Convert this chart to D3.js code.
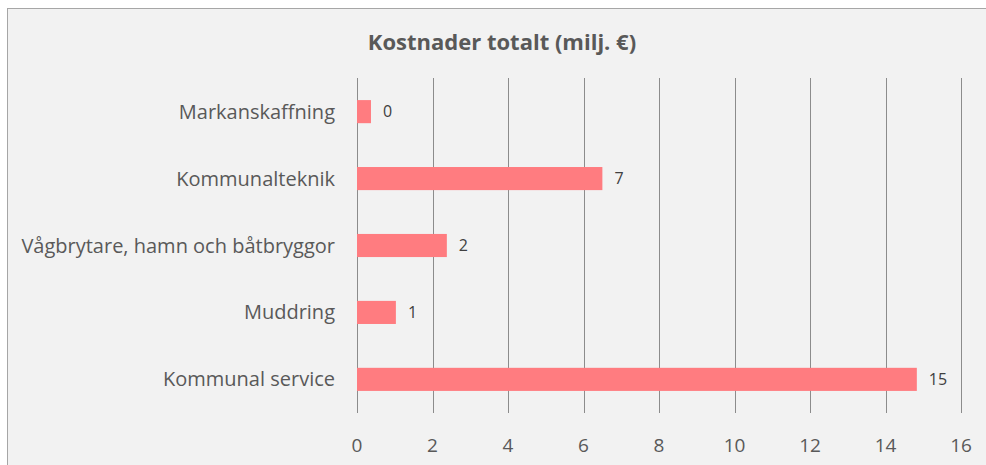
<!DOCTYPE html>
<html>
<head>
<meta charset="utf-8">
<script src="https://cdn.jsdelivr.net/npm/d3@7"></script>
<style>
  body { margin: 0; background: #fff; }
  svg { display: block; font-family: "Open Sans", Lato, sans-serif; }
</style>
</head>
<body>
<div id="chart"></div>
<script>
// Data
const categories = ['Markanskaffning', 'Kommunalteknik', 'Vågbrytare, hamn och båtbryggor', 'Muddring', 'Kommunal service'];
const values = [0.37, 6.5, 2.38, 1.03, 14.83];
const xTicks = [0, 2, 4, 6, 8, 10, 12, 14, 16];

const width = 986, height = 465;
const svg = d3.select('#chart').append('svg')
  .attr('width', width)
  .attr('height', height);

// chart box
svg.append('rect')
  .attr('x', 7.5).attr('y', 8.5)
  .attr('width', width).attr('height', height)
  .attr('fill', '#F2F2F2')
  .attr('stroke', '#A6A6A6')
  .attr('stroke-width', 1);

const plot = { left: 357, right: 961, top: 78, bottom: 413 };

const x = d3.scaleLinear().domain([0, 16]).range([plot.left, plot.right]);
const y = d3.scaleBand().domain(categories).range([plot.top, plot.bottom]).paddingInner(0.655).paddingOuter(0.33);

// Title
svg.append('text')
  .attr('x', 502).attr('y', 50)
  .attr('text-anchor', 'middle')
  .attr('font-size', 22)
  .attr('font-weight', 'bold')
  .attr('fill', '#595959')
  .text('Kostnader totalt (milj. €)');

// gridlines
svg.append('g').selectAll('line')
  .data(xTicks)
  .join('line')
  .attr('x1', d => Math.round(x(d)) + 0.5)
  .attr('x2', d => Math.round(x(d)) + 0.5)
  .attr('y1', plot.top)
  .attr('y2', plot.bottom)
  .attr('stroke', '#8C8C8C')
  .attr('stroke-width', 1);

// x tick labels
svg.append('g').selectAll('text')
  .data(xTicks)
  .join('text')
  .attr('x', d => x(d))
  .attr('y', 452)
  .attr('text-anchor', 'middle')
  .attr('font-size', 19)
  .attr('fill', '#595959')
  .text(d => d);

// bars
svg.append('g').selectAll('rect')
  .data(values)
  .join('rect')
  .attr('x', x(0))
  .attr('y', (d, i) => y(categories[i]))
  .attr('width', d => x(d) - x(0))
  .attr('height', y.bandwidth())
  .attr('fill', '#FF7C80');

// value labels
svg.append('g').selectAll('text')
  .data(values)
  .join('text')
  .attr('x', d => x(d) + 12)
  .attr('y', (d, i) => y(categories[i]) + y.bandwidth() / 2)
  .attr('dy', '0.35em')
  .attr('font-size', 16)
  .attr('fill', '#404040')
  .text(d => Math.round(d));

// category labels
svg.append('g').selectAll('text')
  .data(categories)
  .join('text')
  .attr('x', plot.left - 22)
  .attr('y', d => y(d) + y.bandwidth() / 2)
  .attr('dy', '0.35em')
  .attr('text-anchor', 'end')
  .attr('font-size', 20)
  .attr('fill', '#595959')
  .text(d => d);
</script>
</body>
</html>
